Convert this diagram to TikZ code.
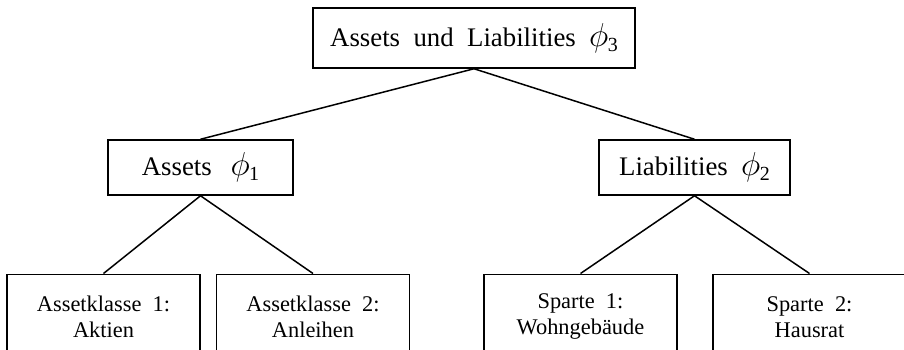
\documentclass[tikz,border=0pt]{standalone}
\usepackage{fontspec}
\setmainfont{Liberation Serif}
\usepackage{tikz}
\usetikzlibrary{positioning}
\newcommand{\wsp}{\hspace{0.5em}}
\newcommand{\phisub}[1]{\scalebox{1.15}{$\phi$}\kern-0.02em\raisebox{-0.4ex}{\fontsize{10}{10}\selectfont #1}}
\tikzset{
        bigbox/.style={
          draw, line width=0.75pt, inner sep=0pt, align=center,
          font=\fontsize{13.4}{16}\selectfont
          },
        smallbox/.style={
          draw, line width=0.75pt, inner sep=0pt, align=center, anchor=north,
          minimum width=96.5pt, minimum height=42.5pt,
          font=\fontsize{11.2}{13}\selectfont
          },
        branch/.style={line width=0.75pt},
}
\begin{document}
\begin{tikzpicture}[x=0.5pt, y=-0.5pt]
      % \draw[help lines, dashed] grid (904, 349);
      \clip (0,0) rectangle (904,349);
      % TOP
      \node[bigbox, minimum width=161pt, minimum height=30pt] (alm) at (474,38)
        {Assets\wsp und\wsp Liabilities\wsp\phisub{3}};
      % MIDDLE
      \node[bigbox, minimum width=92.5pt, minimum height=27.5pt] (assets) at (200.5,167.5)
        {Assets\wsp\hspace{0.2em}\phisub{1}};
      \node[bigbox, minimum width=95.5pt, minimum height=27.5pt] (liab) at (694.5,167.5)
        {Liabilities\wsp\phisub{2}};
      % BOTTOM
      \node[smallbox] (aktien)   at (103.5,273.5) {Assetklasse\wsp 1:\\Aktien};
      \node[smallbox] (anleihen) at (313,273.5)   {Assetklasse\wsp 2:\\Anleihen};
      \node[smallbox] (wohn)     at (580.5,273.5) {Sparte\wsp 1:\\Wohngeb\"aude};
      \node[smallbox] (hausrat)  at (809.5,273.5) {Sparte\wsp 2:\\Hausrat};

      % BRANCHES
      \draw[branch] (alm.south) -- (assets.north);
      \draw[branch] (alm.south) -- (liab.north);
      \draw[branch] (assets.south) -- (aktien.north);
      \draw[branch] (assets.south) -- (anleihen.north);
      \draw[branch] (liab.south) -- (wohn.north);
      \draw[branch] (liab.south) -- (hausrat.north);
\end{tikzpicture}
\end{document}
